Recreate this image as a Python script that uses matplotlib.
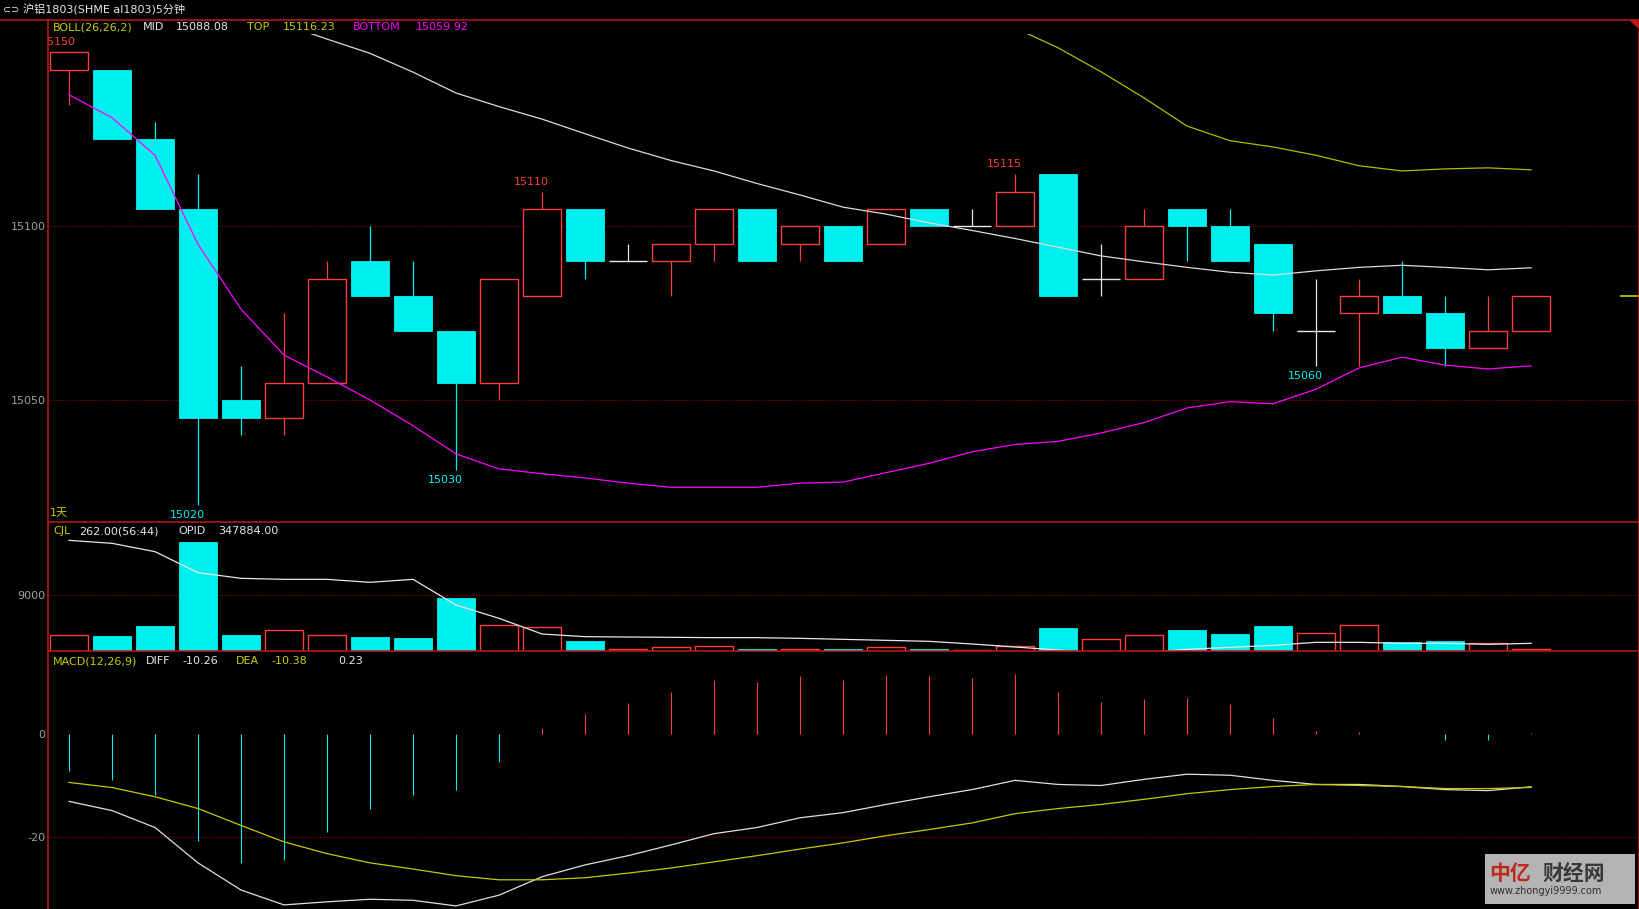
import numpy as np
import matplotlib.pyplot as plt
from matplotlib.patches import Rectangle, Polygon
from matplotlib.lines import Line2D

plt.rcParams['font.family'] = ['DejaVu Sans', 'Noto Sans CJK SC']
plt.rcParams['axes.unicode_minus'] = False

# 5-minute bars, al1803
opens = [15145, 15145, 15125, 15105, 15050, 15045, 15055, 15090, 15080, 15070, 15055, 15080,
         15105, 15090, 15090, 15095, 15105, 15095, 15100, 15095, 15105, 15100, 15100, 15115,
         15085, 15085, 15105, 15100, 15095, 15070, 15075, 15080, 15075, 15065, 15070]
highs = [15150, 15145, 15130, 15115, 15060, 15075, 15090, 15100, 15090, 15070, 15085, 15110,
         15105, 15095, 15095, 15105, 15105, 15100, 15100, 15105, 15105, 15105, 15115, 15115,
         15095, 15105, 15105, 15105, 15095, 15085, 15085, 15090, 15080, 15080, 15080]
lows = [15135, 15125, 15105, 15020, 15040, 15040, 15055, 15080, 15070, 15030, 15050, 15080,
        15085, 15090, 15080, 15090, 15090, 15090, 15090, 15095, 15100, 15100, 15100, 15080,
        15080, 15085, 15090, 15090, 15070, 15060, 15060, 15075, 15060, 15065, 15070]
closes = [15150, 15125, 15105, 15045, 15045, 15055, 15085, 15080, 15070, 15055, 15085, 15105,
          15090, 15090, 15095, 15105, 15090, 15100, 15090, 15105, 15100, 15100, 15110, 15080,
          15085, 15100, 15100, 15090, 15075, 15070, 15080, 15075, 15065, 15070, 15080]

boll_mid = [15170, 15168, 15166, 15163, 15161, 15158, 15153.8, 15149.7, 15144.3, 15138.3, 15134.4,
            15130.8, 15126.6, 15122.5, 15118.9, 15115.9, 15112.3, 15109.0, 15105.5, 15103.5,
            15101.0, 15098.8, 15096.5, 15094.0, 15091.5, 15089.8, 15088.2, 15086.8, 15086.0,
            15087.2, 15088.2, 15088.8, 15088.2, 15087.5, 15088.08]
boll_top = [15202, 15205, 15212, 15233, 15246, 15253, 15251, 15249, 15246, 15242, 15238, 15233,
            15226, 15219, 15213, 15207, 15200, 15192, 15185, 15178, 15170, 15162, 15157, 15151.3,
            15144.4, 15136.9, 15128.8, 15124.6, 15122.8, 15120.4, 15117.4, 15115.9, 15116.5,
            15116.8, 15116.23]
boll_bottom = [15137.8, 15131.2, 15120.4, 15094.8, 15076.2, 15063.0, 15056.7, 15050.1, 15042.7,
               15034.6, 15030.3, 15028.9, 15027.7, 15026.2, 15025.0, 15025.0, 15025.0, 15026.2,
               15026.5, 15029.2, 15031.9, 15035.2, 15037.3, 15038.2, 15040.6, 15043.6, 15047.8,
               15049.6, 15049.0, 15053.2, 15059.3, 15062.4, 15060.1, 15059.0, 15059.92]

volume = [2590, 2420, 4040, 17620, 2590, 3390, 2590, 2260, 2100, 8570, 4150, 3830, 1620, 320,
          650, 750, 320, 300, 320, 650, 320, 160, 750, 3720, 1940, 2590, 3390, 2750, 4040, 2860,
          4200, 1460, 1620, 1290, 262]
opid = [350974, 350884, 350634, 350004, 349834, 349804, 349804, 349714, 349804, 349034, 348634,
        348164, 348084, 348074, 348064, 348054, 348054, 348034, 348004, 347974, 347944, 347864,
        347774, 347684, 347564, 347600, 347704, 347764, 347824, 347914, 347914, 347884, 347884,
        347854, 347884]

diff = [-13.1, -14.9, -18.2, -25.1, -30.4, -33.3, -32.7, -32.2, -32.4, -33.5, -31.4, -27.8, -25.5,
        -23.7, -21.6, -19.4, -18.2, -16.3, -15.3, -13.7, -12.2, -10.8, -9.0, -9.8, -10.0, -8.8,
        -7.8, -8.0, -9.0, -9.8, -9.8, -10.2, -10.8, -11.0, -10.26]
dea = [-9.4, -10.4, -12.2, -14.5, -17.8, -21.0, -23.3, -25.1, -26.3, -27.6, -28.4, -28.4, -28.0,
       -27.1, -26.1, -24.9, -23.7, -22.4, -21.2, -19.8, -18.6, -17.3, -15.5, -14.5, -13.7, -12.7,
       -11.6, -10.8, -10.2, -9.8, -10.0, -10.2, -10.6, -10.6, -10.38]
macd = [-7.1, -9.0, -11.8, -20.8, -25.1, -24.5, -19.0, -14.5, -11.8, -10.8, -5.5, 1.2, 3.9, 6.1,
        8.2, 10.6, 10.2, 11.4, 10.6, 11.6, 11.4, 11.0, 11.8, 8.2, 6.3, 6.9, 7.1, 5.9, 3.1, 0.6,
        0.4, 0.1, -1.2, -1.2, 0.23]

# price extremes marked on the chart: (bar index, price, above/below)
marks = [(0, 15150, 'high'), (3, 15020, 'low'), (9, 15030, 'low'), (11, 15110, 'high'),
         (22, 15115, 'high'), (29, 15060, 'low')]

RED = '#FF3C3C'
FRAME = '#C01818'
GRID = '#A00000'
CYAN = '#00F0F0'
WHITE = '#E6E6F0'
YEL = '#CCCC00'
MAG = '#FF00FF'
GREY = '#A0A0A0'

W, H = 1640, 909
L, R = 48.5, 1639


def fx(x):
    return x / W


def fy(y):
    return 1 - y / H


fig = plt.figure(figsize=(W / 100, H / 100), dpi=100, facecolor='black')
ax_p = fig.add_axes([fx(L), fy(522), (R - L) / W, (522 - 34) / H])
ax_v = fig.add_axes([fx(L), fy(651), (R - L) / W, (651 - 522) / H])
ax_m = fig.add_axes([fx(L), fy(909), (R - L) / W, (909 - 651) / H])

x = np.arange(len(closes))
for ax in (ax_p, ax_v, ax_m):
    ax.set_facecolor('black')
    for s in ax.spines.values():
        s.set_visible(False)
    ax.set_xticks([])
    ax.set_xlim(-0.477, 36.51)
    ax.tick_params(axis='y', length=0, pad=2, labelcolor=GREY, labelsize=8)

dots = (0, (1, 1.6))

# ---- price panel
ax_p.set_ylim(15015.03, 15155.26)
ax_p.set_yticks([15050, 15100])
for v in (15050, 15100):
    ax_p.axhline(v, color=GRID, ls=dots, lw=0.8, zorder=1)

bw = 0.9
for i in x:
    o, h, l, c = opens[i], highs[i], lows[i], closes[i]
    if c > o:
        ax_p.vlines(i, l, h, color=RED, lw=0.9, zorder=2)
        ax_p.add_patch(Rectangle((i - bw / 2, o), bw, c - o, facecolor='black',
                                 edgecolor=RED, lw=1.0, zorder=3))
    elif c < o:
        ax_p.vlines(i, l, h, color=CYAN, lw=0.9, zorder=2)
        ax_p.add_patch(Rectangle((i - bw / 2, c), bw, o - c, facecolor=CYAN,
                                 edgecolor=CYAN, lw=0.6, zorder=3))
    else:
        ax_p.vlines(i, l, h, color=WHITE, lw=0.9, zorder=2)
        ax_p.hlines(o, i - bw / 2, i + bw / 2, color=WHITE, lw=1.0, zorder=3)

ax_p.plot(x, boll_mid, color='#DCDCDC', lw=0.9, zorder=4)
ax_p.plot(x, boll_top, color='#B8B800', lw=0.9, zorder=4)
ax_p.plot(x, boll_bottom, color=MAG, lw=0.9, zorder=4)

for i, p, kind in marks:
    up = kind == 'high'
    ax_p.annotate(str(p), xy=(i + 0.15, p), xytext=(0, 10 if up else -10),
                  textcoords='offset pixels', ha='right', va='center', fontsize=8,
                  color=RED if up else CYAN, clip_on=True, zorder=5)

# last price tick on the right edge
ax_p.hlines(closes[-1], 36.07, 36.51, color=YEL, lw=1.2, zorder=5)

# ---- volume panel
ax_v.set_ylim(0, 20856)
ax_v.set_yticks([9000])
ax_v.axhline(9000, color=GRID, ls=dots, lw=0.8, zorder=1)
for i in x:
    if closes[i] < opens[i]:
        ax_v.add_patch(Rectangle((i - bw / 2, 0), bw, volume[i], facecolor=CYAN,
                                 edgecolor=CYAN, lw=0.6, zorder=3))
    else:
        ax_v.add_patch(Rectangle((i - bw / 2, 0), bw, volume[i], facecolor='black',
                                 edgecolor=RED, lw=1.0, zorder=3))
ax_oi = ax_v.twinx()
ax_oi.set_ylim(347654, 351524)
ax_oi.set_xlim(-0.477, 36.51)
ax_oi.axis('off')
ax_oi.plot(x, opid, color='#E8E8E8', lw=0.9, zorder=4)

# ---- MACD panel
ax_m.set_ylim(-34.10, 16.24)
ax_m.set_yticks([-20, 0])
ax_m.axhline(-20, color=GRID, ls=dots, lw=0.8, zorder=1)
for i in x:
    ax_m.vlines(i, 0, macd[i], color=RED if macd[i] > 0 else CYAN, lw=0.8, zorder=2)
ax_m.plot(x, diff, color='#E0E0E0', lw=0.9, zorder=3)
ax_m.plot(x, dea, color='#C8C800', lw=0.9, zorder=3)

# ---- frame
frame = [([0, W], [19.5, 19.5]), ([L, L], [19.5, H]), ([R, R], [19.5, H]),
         ([L, R], [522, 522]), ([L, R], [651, 651])]
for xs, ys in frame:
    fig.add_artist(Line2D([fx(v) for v in xs], [fy(v) for v in ys], color=FRAME, lw=1.1))
fig.add_artist(Polygon([[fx(1630), fy(19.5)], [fx(1640), fy(19.5)], [fx(1640), fy(29)]],
                       closed=True, color=FRAME))

# ---- texts
fig.text(fx(3), fy(10), '⊂⊃', color=WHITE, fontsize=7, va='center')
fig.text(fx(23), fy(10), '沪铝1803(SHME al1803)5分钟', color=WHITE, fontsize=8, va='center')


def header(y, items):
    for xpos, s, col in items:
        fig.text(fx(xpos), fy(y), s, color=col, fontsize=8, va='center', ha='left')


header(27.5, [(53, 'BOLL(26,26,2)', YEL), (143, 'MID', WHITE), (176, '15088.08', WHITE),
              (247, 'TOP', YEL), (283, '15116.23', YEL), (353, 'BOTTOM', MAG),
              (416, '15059.92', MAG)])
header(531.5, [(53, 'CJL', YEL), (79, '262.00(56:44)', WHITE), (178, 'OPID', WHITE),
               (218, '347884.00', WHITE)])
header(661, [(53, 'MACD(12,26,9)', YEL), (146, 'DIFF', WHITE), (182, '-10.26', WHITE),
             (236, 'DEA', YEL), (271, '-10.38', YEL), (338, '0.23', WHITE)])
fig.text(fx(50), fy(513), '1天', color=YEL, fontsize=8, va='center')

# watermark
fig.add_artist(Rectangle((fx(1485), fy(904)), 150 / W, 50 / H, facecolor='#B4B4B4',
                         edgecolor='none', transform=fig.transFigure))
fig.text(fx(1489), fy(873), '中亿', color='#C0281C', fontsize=15, fontweight='bold',
         fontstyle='italic', va='center', ha='left', family=['Noto Sans CJK SC'])
fig.text(fx(1543), fy(873), '财经网', color='#383838', fontsize=15, fontweight='bold',
         va='center', ha='left', family=['Noto Sans CJK SC'])
fig.text(fx(1490), fy(891), 'www.zhongyi9999.com', color='#303030', fontsize=7,
         va='center', ha='left')

fig.savefig('out.png', dpi=100, facecolor='black')
